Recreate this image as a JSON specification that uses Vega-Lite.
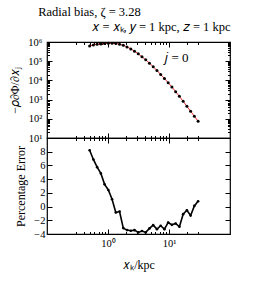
{
  "$schema": "https://vega.github.io/schema/vega-lite/v6.json",
  "padding": {"left": 8, "top": 6, "right": 5, "bottom": 5},
  "background": "white",
  "title": {"text": "Radial bias, ζ = 3.28", "anchor": "start", "frame": "bounds", "dx": 30, "fontSize": 12.5, "font": "Liberation Serif", "fontWeight": "normal", "color": "black", "offset": 1},
  "datasets": {
    "top": [
      {"x": 0.500, "f": 625000}, {"x": 0.576, "f": 705000}, {"x": 0.663, "f": 762000}, {"x": 0.764, "f": 794000},
      {"x": 0.880, "f": 826000}, {"x": 1.013, "f": 859000}, {"x": 1.166, "f": 859000}, {"x": 1.343, "f": 826000},
      {"x": 1.547, "f": 762000}, {"x": 1.781, "f": 677000}, {"x": 2.051, "f": 556000}, {"x": 2.363, "f": 438000},
      {"x": 2.721, "f": 331000}, {"x": 3.133, "f": 241000}, {"x": 3.608, "f": 168000}, {"x": 4.155, "f": 118000},
      {"x": 4.786, "f": 79100}, {"x": 5.511, "f": 51100}, {"x": 6.347, "f": 33000}, {"x": 7.310, "f": 20500},
      {"x": 8.418, "f": 12700}, {"x": 9.694, "f": 7570}, {"x": 11.16, "f": 4510}, {"x": 12.86, "f": 2590},
      {"x": 14.81, "f": 1480}, {"x": 17.05, "f": 817}, {"x": 19.64, "f": 450}, {"x": 22.61, "f": 248},
      {"x": 26.04, "f": 136}, {"x": 30.00, "f": 75}
    ],
    "err": [
      {"x": 0.500, "e": 8.22}, {"x": 0.576, "e": 6.87}, {"x": 0.663, "e": 5.75}, {"x": 0.764, "e": 4.84},
      {"x": 0.880, "e": 3.24}, {"x": 1.013, "e": 2.42}, {"x": 1.166, "e": 1.07}, {"x": 1.343, "e": -0.87},
      {"x": 1.547, "e": -0.72}, {"x": 1.781, "e": -3.14}, {"x": 2.051, "e": -3.43}, {"x": 2.363, "e": -3.53},
      {"x": 2.721, "e": -3.43}, {"x": 3.133, "e": -3.77}, {"x": 3.608, "e": -3.57}, {"x": 4.155, "e": -3.77},
      {"x": 4.786, "e": -3.19}, {"x": 5.511, "e": -2.71}, {"x": 6.347, "e": -3.29}, {"x": 7.310, "e": -2.80},
      {"x": 8.418, "e": -3.29}, {"x": 9.694, "e": -2.32}, {"x": 11.16, "e": -2.66}, {"x": 12.86, "e": -2.47},
      {"x": 14.81, "e": -2.95}, {"x": 17.05, "e": -1.11}, {"x": 19.64, "e": -0.53}, {"x": 22.61, "e": -1.30},
      {"x": 26.04, "e": 0.10}, {"x": 30.00, "e": 0.78}
    ],
    "lab": [{"x": 13.2, "f": 155000, "t": "𝑗 = 0"}]
  },
  "spacing": 0,
  "bounds": "flush",
  "vconcat": [
    {
      "width": 183,
      "height": 96,
      "title": {"text": "𝑥 = 𝑥ₖ, 𝑦 = 1 kpc, 𝑧 = 1 kpc", "anchor": "end", "fontSize": 12.5, "font": "Liberation Serif", "fontWeight": "normal", "color": "black", "offset": 4},
      "resolve": {"axis": {"x": "independent", "y": "independent"}},
      "layer": [
        {
          "data": {"name": "top"},
          "mark": {"type": "line", "color": "#e8262a", "strokeWidth": 1},
          "encoding": {
            "x": {"field": "x", "type": "quantitative", "scale": {"type": "log", "domain": [0.21, 37]},
              "axis": {"orient": "bottom", "title": null, "labels": false,
                "values": [0.3,0.4,0.5,0.6,0.7,0.8,0.9,1,2,3,4,5,6,7,8,9,10,20,30],
                "tickSize": {"condition": {"test": "datum.value == 1 || datum.value == 10", "value": -5}, "value": -2.5}}},
            "y": {"field": "f", "type": "quantitative", "scale": {"type": "log", "domain": [10, 1000000]},
              "axis": {"orient": "left", "title": "−𝜌∂Φ/∂𝑥ⱼ", "titlePadding": 6,
                "values": [10,20,30,40,50,60,70,80,90,100,200,300,400,500,600,700,800,900,1000,2000,3000,4000,5000,6000,7000,8000,9000,10000,20000,30000,40000,50000,60000,70000,80000,90000,100000,200000,300000,400000,500000,600000,700000,800000,900000,1000000],
                "labelExpr": "indexof([10,100,1000,10000,100000,1000000], datum.value) >= 0 ? '10' + ['⁰','¹','²','³','⁴','⁵','⁶'][round(log(datum.value)/LN10)] : ''",
                "labelPadding": 10,
                "labelOverlap": false,
                "tickSize": {"condition": {"test": "indexof([10,100,1000,10000,100000,1000000], datum.value) >= 0", "value": -5}, "value": -2.5}}}
          }
        },
        {
          "data": {"name": "top"},
          "mark": {"type": "circle", "color": "black", "size": 9, "opacity": 1},
          "encoding": {
            "x": {"field": "x", "type": "quantitative",
              "axis": {"orient": "top", "title": null, "labels": false,
                "values": [0.3,0.4,0.5,0.6,0.7,0.8,0.9,1,2,3,4,5,6,7,8,9,10,20,30],
                "tickSize": {"condition": {"test": "datum.value == 1 || datum.value == 10", "value": -5}, "value": -2.5}}},
            "y": {"field": "f", "type": "quantitative",
              "axis": {"orient": "right", "title": null, "labels": false,
                "values": [10,20,30,40,50,60,70,80,90,100,200,300,400,500,600,700,800,900,1000,2000,3000,4000,5000,6000,7000,8000,9000,10000,20000,30000,40000,50000,60000,70000,80000,90000,100000,200000,300000,400000,500000,600000,700000,800000,900000,1000000],
                "tickSize": {"condition": {"test": "indexof([10,100,1000,10000,100000,1000000], datum.value) >= 0", "value": -5}, "value": -2.5}}}
          }
        },
        {
          "data": {"name": "lab"},
          "mark": {"type": "text", "fontSize": 13, "font": "Liberation Serif", "color": "black"},
          "encoding": {
            "x": {"field": "x", "type": "quantitative", "axis": null},
            "y": {"field": "f", "type": "quantitative", "axis": null},
            "text": {"field": "t"}
          }
        }
      ]
    },
    {
      "width": 183,
      "height": 96,
      "resolve": {"axis": {"x": "independent", "y": "independent"}},
      "layer": [
        {
          "mark": {"type": "rule", "color": "#9a9a9a", "strokeDash": [4, 3], "strokeWidth": 1.2},
          "encoding": {"y": {"datum": 0, "type": "quantitative", "scale": {"domain": [-4, 10]}, "axis": null}}
        },
        {
          "data": {"name": "err"},
          "mark": {"type": "line", "color": "black", "strokeWidth": 1.6},
          "encoding": {
            "x": {"field": "x", "type": "quantitative", "scale": {"type": "log", "domain": [0.21, 37]},
              "axis": {"orient": "bottom", "title": "𝑥ₖ/kpc", "titlePadding": 8,
                "values": [0.3,0.4,0.5,0.6,0.7,0.8,0.9,1,2,3,4,5,6,7,8,9,10,20,30],
                "labelExpr": "datum.value == 1 ? '10⁰' : datum.value == 10 ? '10¹' : ''",
                "labelPadding": 9, "labelOverlap": false,
                "tickSize": {"condition": {"test": "datum.value == 1 || datum.value == 10", "value": -5}, "value": -2.5}}},
            "y": {"field": "e", "type": "quantitative", "scale": {"domain": [-4, 10]},
              "axis": {"orient": "left", "title": "Percentage Error", "titlePadding": 6,
                "values": [-4, -2, 0, 2, 4, 6, 8], "labelPadding": 7, "tickSize": -5}}
          }
        },
        {
          "data": {"name": "err"},
          "mark": {"type": "circle", "color": "black", "size": 7, "opacity": 1},
          "encoding": {
            "x": {"field": "x", "type": "quantitative",
              "axis": {"orient": "top", "title": null, "labels": false,
                "values": [0.3,0.4,0.5,0.6,0.7,0.8,0.9,1,2,3,4,5,6,7,8,9,10,20,30],
                "tickSize": {"condition": {"test": "datum.value == 1 || datum.value == 10", "value": -5}, "value": -2.5}}},
            "y": {"field": "e", "type": "quantitative",
              "axis": {"orient": "right", "title": null, "labels": false, "values": [-4, -2, 0, 2, 4, 6, 8], "tickSize": -5}}
          }
        }
      ]
    }
  ],
  "config": {
    "font": "Liberation Serif",
    "view": {"stroke": "black", "strokeWidth": 1.2},
    "axis": {"domain": false, "grid": false, "labelFont": "Liberation Serif", "labelFontSize": 10.5, "labelColor": "black",
      "titleFont": "Liberation Serif", "titleFontWeight": "normal", "titleFontSize": 12, "titleColor": "black", "tickColor": "black", "tickWidth": 1}
  }
}
